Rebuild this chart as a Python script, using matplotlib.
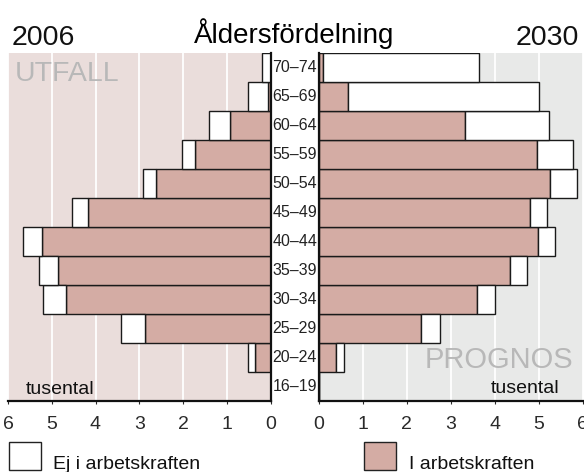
import matplotlib
matplotlib.use("Agg")
import matplotlib.pyplot as plt
import matplotlib.transforms as mtransforms
from matplotlib.patches import Rectangle
import numpy as np

plt.rcParams['font.family'] = ['Liberation Sans', 'DejaVu Sans']

# Data (thousands), ordered bottom -> top
ages = ["16–19", "20–24", "25–29", "30–34", "35–39", "40–44",
        "45–49", "50–54", "55–59", "60–64", "65–69", "70–74"]
labor_2006 = [0.0, 0.36, 2.88, 4.68, 4.85, 5.23, 4.17, 2.62, 1.73, 0.92, 0.05, 0.0]
notlabor_2006 = [0.0, 0.15, 0.54, 0.53, 0.45, 0.42, 0.36, 0.30, 0.29, 0.48, 0.46, 0.20]
labor_2030 = [0.0, 0.40, 2.33, 3.61, 4.36, 4.98, 4.80, 5.26, 4.96, 3.34, 0.67, 0.11]
notlabor_2030 = [0.0, 0.17, 0.43, 0.40, 0.38, 0.40, 0.40, 0.61, 0.82, 1.89, 4.35, 3.53]
xticks = [0, 1, 2, 3, 4, 5, 6]

W, H = 584, 472
PINK = '#D4ACA4'
BG_L = '#EADDDB'
BG_R = '#E8E9E8'
EDGE = '#1a1a1a'

fig = plt.figure(figsize=(W / 100, H / 100), dpi=100)

def fx(px):
    return px / W

def fy(py):
    return 1 - py / H

top_px, bot_px = 52.7, 401.0
axL = fig.add_axes([fx(8), fy(bot_px), fx(270.5 - 8), (bot_px - top_px) / H])
axR = fig.add_axes([fx(318.5), fy(bot_px), fx(264), (bot_px - top_px) / H])

y = np.arange(len(ages))

for ax, lab, nl, bg in [(axL, labor_2006, notlabor_2006, BG_L),
                        (axR, labor_2030, notlabor_2030, BG_R)]:
    ax.set_facecolor(bg)
    ax.set_xlim(0, 6)
    ax.set_ylim(-0.5, len(ages) - 0.5)
    ax.set_axisbelow(True)
    ax.grid(axis='x', color='white', linewidth=1.3)
    ax.grid(axis='y', visible=False)
    ax.barh(y, lab, height=1.0, color=PINK, edgecolor=EDGE, linewidth=1.0)
    ax.barh(y, nl, left=lab, height=1.0, color='white', edgecolor=EDGE, linewidth=1.0)
    ax.set_xticks(xticks)
    ax.set_xticklabels([str(t) for t in xticks])
    ax.set_yticks([])
    ax.tick_params(axis='x', direction='out', length=2.5, width=0.8, pad=8,
                   labelsize=14, colors='#2a2a2a')
    ax.spines['top'].set_visible(False)
    for s in ['bottom', 'left', 'right']:
        ax.spines[s].set_linewidth(1.6)
        ax.spines[s].set_color('#111111')

axL.set_xlim(6, 0)
axL.spines['left'].set_visible(False)
axR.spines['right'].set_visible(False)

# age labels between panels
tr = mtransforms.blended_transform_factory(fig.transFigure, axL.transData)
for yi, a in zip(y, ages):
    fig.text(fx(272.5), yi, a, transform=tr, ha='left', va='center',
             fontsize=11.5, color='#222222')

# titles
fig.text(fx(12), fy(45), "2006", ha='left', va='baseline', fontsize=20.5, color='#111111')
fig.text(fx(294.5), fy(43), "Åldersfördelning", ha='center', va='baseline',
         fontsize=20, color='#000000')
fig.text(fx(579), fy(45), "2030", ha='right', va='baseline', fontsize=20.5, color='#111111')

fig.text(fx(15), fy(81), "UTFALL", ha='left', va='baseline', fontsize=20.5, color='#B8B8B8')
fig.text(fx(573), fy(368), "PROGNOS", ha='right', va='baseline', fontsize=21, color='#B8B8B8')
fig.text(fx(26), fy(394), "tusental", ha='left', va='baseline', fontsize=14, color='#111111')
fig.text(fx(559), fy(393), "tusental", ha='right', va='baseline', fontsize=14, color='#111111')

# legend
fig.add_artist(Rectangle((fx(9), fy(470)), fx(32), 28 / H, transform=fig.transFigure,
                         facecolor='white', edgecolor='#222222', linewidth=1.0))
fig.text(fx(53), fy(469), "Ej i arbetskraften", ha='left', va='baseline',
         fontsize=14, color='#111111')
fig.add_artist(Rectangle((fx(364), fy(470)), fx(32), 28 / H, transform=fig.transFigure,
                         facecolor=PINK, edgecolor='#222222', linewidth=1.0))
fig.text(fx(408.7), fy(469), "I arbetskraften", ha='left', va='baseline',
         fontsize=14, color='#111111')

fig.savefig("out.png", dpi=100)
